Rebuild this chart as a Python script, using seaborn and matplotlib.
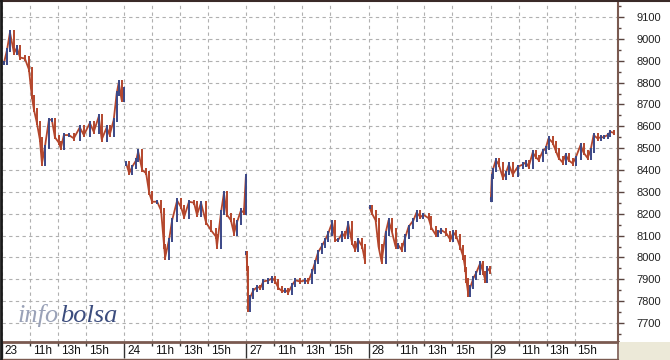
import numpy as np
import pandas as pd
import seaborn as sns
import matplotlib
matplotlib.use("Agg")
import matplotlib.pyplot as plt
from matplotlib import transforms
from matplotlib.patches import Rectangle
from matplotlib.lines import Line2D

# ---------------- data ----------------
day_labels = ["23", "24", "27", "28", "29"]
hour_ticks = [11, 13, 15]
hour_labels = ["11h", "13h", "15h"]
y_ticks = [7700, 7800, 7900, 8000, 8100, 8200, 8300, 8400, 8500, 8600, 8700, 8800, 8900, 9000, 9100]

hours_23 = [9.14, 9.36, 9.57, 9.86, 10.07, 10.29, 10.64, 10.93, 11.14, 11.29, 11.5, 11.71, 11.86, 12.07,
            12.36, 12.57, 12.79, 13.07, 13.21, 13.43, 13.79, 14.14, 14.57, 14.86, 15.29, 15.57, 15.93,
            16.14, 16.5, 16.71, 17.0, 17.21, 17.36, 17.57, 17.71]
price_23 = [8890, 8950, 9030, 8935, 8960, 8915, 8910, 8860, 8735, 8675, 8615, 8540, 8430, 8505,
            8630, 8630, 8550, 8525, 8500, 8560, 8560, 8545, 8595, 8560, 8615, 8575, 8645,
            8540, 8595, 8560, 8630, 8750, 8800, 8720, 8770]

hours_24 = [9.14, 9.36, 9.57, 9.86, 10.0, 10.29, 10.57, 10.79, 11.0, 11.36, 11.64, 11.86, 11.93, 12.21,
            12.43, 12.79, 13.07, 13.29, 13.64, 14.0, 14.21, 14.5, 14.86, 15.21, 15.57, 15.64, 15.93,
            16.14, 16.36, 16.64, 16.86, 17.07, 17.36, 17.57, 17.71]
price_24 = [8430, 8385, 8415, 8445, 8485, 8400, 8385, 8295, 8255, 8255, 8215, 8050, 8000, 8080,
            8170, 8260, 8230, 8185, 8255, 8250, 8195, 8250, 8160, 8125, 8095, 8050, 8205,
            8295, 8195, 8170, 8110, 8160, 8215, 8205, 8370]

hours_27 = [9.0, 9.07, 9.14, 9.29, 9.5, 9.79, 10.0, 10.21, 10.57, 10.86, 11.07, 11.29, 11.57, 11.79,
            12.0, 12.29, 12.5, 12.86, 13.21, 13.43, 13.71, 13.93, 14.14, 14.43, 14.64, 14.86, 15.14,
            15.36, 15.57, 15.86, 16.07, 16.29, 16.57, 16.79, 17.0, 17.29, 17.5]
price_27 = [8020, 7950, 7760, 7820, 7850, 7865, 7860, 7890, 7895, 7905, 7890, 7860, 7845, 7850,
            7840, 7875, 7895, 7890, 7895, 7890, 7935, 7980, 8025, 8055, 8080, 8110, 8160,
            8080, 8080, 8110, 8095, 8155, 8065, 8035, 8080, 8050, 7980]

hours_28 = [9.07, 9.21, 9.5, 9.71, 9.93, 10.21, 10.43, 10.64, 10.93, 11.14, 11.36, 11.64, 11.86, 12.21,
            12.43, 12.71, 12.93, 13.29, 13.5, 13.79, 14.0, 14.21, 14.57, 14.86, 15.07, 15.29, 15.57,
            15.79, 15.93, 16.0, 16.14, 16.29, 16.5, 16.71, 17.0, 17.21, 17.36, 17.5, 17.71]
price_28 = [8230, 8205, 8170, 8050, 7980, 8110, 8170, 8125, 8050, 8055, 8035, 8095, 8140, 8170,
            8205, 8185, 8195, 8180, 8135, 8105, 8115, 8125, 8110, 8080, 8115, 8095, 8045,
            8000, 7945, 7895, 7830, 7865, 7905, 7930, 7975, 7930, 7895, 7950, 7935]

hours_29 = [9.0, 9.07, 9.14, 9.36, 9.57, 9.86, 10.07, 10.29, 10.57, 10.93, 11.29, 11.5, 11.71, 12.0,
            12.21, 12.43, 12.71, 12.93, 13.14, 13.43, 13.64, 13.86, 14.14, 14.36, 14.57, 14.86, 15.07,
            15.43, 15.64, 15.93, 16.14, 16.36, 16.64, 16.86, 17.07, 17.36, 17.57, 17.79]
price_29 = [8265, 8370, 8400, 8445, 8425, 8365, 8385, 8425, 8380, 8415, 8425, 8435, 8415, 8480,
            8460, 8445, 8485, 8500, 8545, 8525, 8490, 8455, 8435, 8470, 8445, 8430, 8455,
            8515, 8480, 8455, 8490, 8560, 8545, 8550, 8550, 8560, 8575, 8570]

all_hours = [hours_23, hours_24, hours_27, hours_28, hours_29]
all_prices = [price_23, price_24, price_27, price_28, price_29]

DAY_LEN = 8.75   # trading hours per session
OPEN = 9.0

rows = []
for d, (hs, ps) in enumerate(zip(all_hours, all_prices)):
    for h, p in zip(hs, ps):
        rows.append({"day": day_labels[d], "t": d * DAY_LEN + (h - OPEN), "price": p})
df = pd.DataFrame(rows)

# ---------------- style ----------------
sns.set_theme(style="white")
plt.rcParams["font.family"] = ["Liberation Sans", "DejaVu Sans"]

W, H = 670, 360
fig = plt.figure(figsize=(W / 100, H / 100), dpi=100, facecolor="white")
ax = fig.add_axes([2 / W, (H - 342) / H, (618 - 2) / W, (342 - 2) / H])
ax.set_facecolor("white")

RED = "#b4462c"
BLUE = "#3b4887"

sns.lineplot(data=df, x="t", y="price", units="day", estimator=None, color=RED,
             linewidth=1.3, ax=ax, legend=False, zorder=3)

# up/down bars coloured by direction
for d, day in enumerate(day_labels):
    sub = df[df["day"] == day].reset_index(drop=True)
    prev = sub["price"].shift(1).fillna(sub["price"])
    up = sub["price"] >= prev
    lo = np.minimum(prev, sub["price"]) - 10
    hi = np.maximum(prev, sub["price"]) + 10
    ax.vlines(sub["t"][up], lo[up], hi[up], color=BLUE, linewidth=1.4, zorder=4)
    ax.vlines(sub["t"][~up], lo[~up], hi[~up], color=RED, linewidth=1.4, zorder=4)

# axes limits
px_per_h = 14.0
ax.set_xlim(1.5 / px_per_h, 617.5 / px_per_h)
ax.set_ylim(7613, 9169)

# gridlines
day_pos = [d * DAY_LEN for d in range(len(day_labels))]
hour_pos = [d * DAY_LEN + (h - OPEN) for d in range(len(day_labels)) for h in hour_ticks]
grid_kw = dict(color="#b0b0b0", linestyle=(0, (3, 3)), linewidth=0.8, zorder=1)
for x in day_pos + hour_pos:
    ax.axvline(x, **grid_kw)
for y in y_ticks:
    ax.axhline(y, **grid_kw)

# y axis on the right
ax.yaxis.tick_right()
ax.set_yticks(y_ticks)
ax.set_yticks(np.arange(7650, 9200, 100), minor=True)
ax.set_yticklabels([str(v) for v in y_ticks], fontsize=8, color="#222222")
ax.tick_params(axis="y", which="major", right=True, left=False, length=4.5, width=1,
               color="#5a4540", pad=9, direction="out")
ax.tick_params(axis="y", which="minor", right=True, left=False, length=2, width=1,
               color="#5a4540", direction="out")

# x axis ticks
ax.set_xticks(day_pos)
ax.set_xticks(hour_pos, minor=True)
ax.set_xticklabels([])
ax.tick_params(axis="x", which="major", bottom=True, length=11.5, width=1, color="#333333",
               direction="out")
ax.tick_params(axis="x", which="minor", bottom=True, length=3, width=1, color="#333333",
               direction="out")
ax.set_xlabel("")
ax.set_ylabel("")

trans = transforms.blended_transform_factory(ax.transData, ax.transAxes)
for d, lab in enumerate(day_labels):
    ax.text(day_pos[d] + 0.2, -0.025, lab, transform=trans, fontsize=8.5,
            ha="left", va="center", color="#111111")
    for h, hl in zip(hour_ticks, hour_labels):
        ax.text(day_pos[d] + (h - OPEN) + 0.2, -0.025, hl, transform=trans, fontsize=8.5,
                ha="left", va="center", color="#111111")

# spines
for s in ["top", "left"]:
    ax.spines[s].set_visible(False)
ax.spines["bottom"].set_color("#7a5a50")
ax.spines["bottom"].set_linewidth(2)
ax.spines["right"].set_color("#7a5a50")
ax.spines["right"].set_linewidth(1.5)

# frame decorations
fig.patches.append(Rectangle((618.5 / W, 0), 1 - 618.5 / W, (H - 342) / H,
                             transform=fig.transFigure, facecolor="#ece9d8",
                             edgecolor="none", zorder=0))
fig.lines.append(Line2D([618 / W, 618 / W], [1 / H, (H - 342) / H], transform=fig.transFigure,
                        color="#7a5a50", linewidth=1.2))
fig.lines.append(Line2D([0, 618 / W], [1.5 / H, 1.5 / H], transform=fig.transFigure,
                        color="#7a5a50", linewidth=1.0))
fig.lines.append(Line2D([0, 1], [1 - 0.8 / H, 1 - 0.8 / H], transform=fig.transFigure,
                        color="#3a2a28", linewidth=1.5))
fig.lines.append(Line2D([0.8 / W, 0.8 / W], [0, 1], transform=fig.transFigure,
                        color="#1a1a1a", linewidth=2.0))

# logo
logo_kw = dict(fontsize=19, family="Liberation Serif", style="italic", va="baseline", ha="left")
t1 = fig.text(18 / W, (H - 322) / H, "info", color="#9aa2b8", **logo_kw)
renderer = fig.canvas.get_renderer()
bb = t1.get_window_extent(renderer=renderer)
fig.text(bb.x1 / W + 1 / W, (H - 322) / H, "bolsa", color="#3c4d7e", **logo_kw)

fig.savefig("out.png", dpi=100, facecolor="white")
